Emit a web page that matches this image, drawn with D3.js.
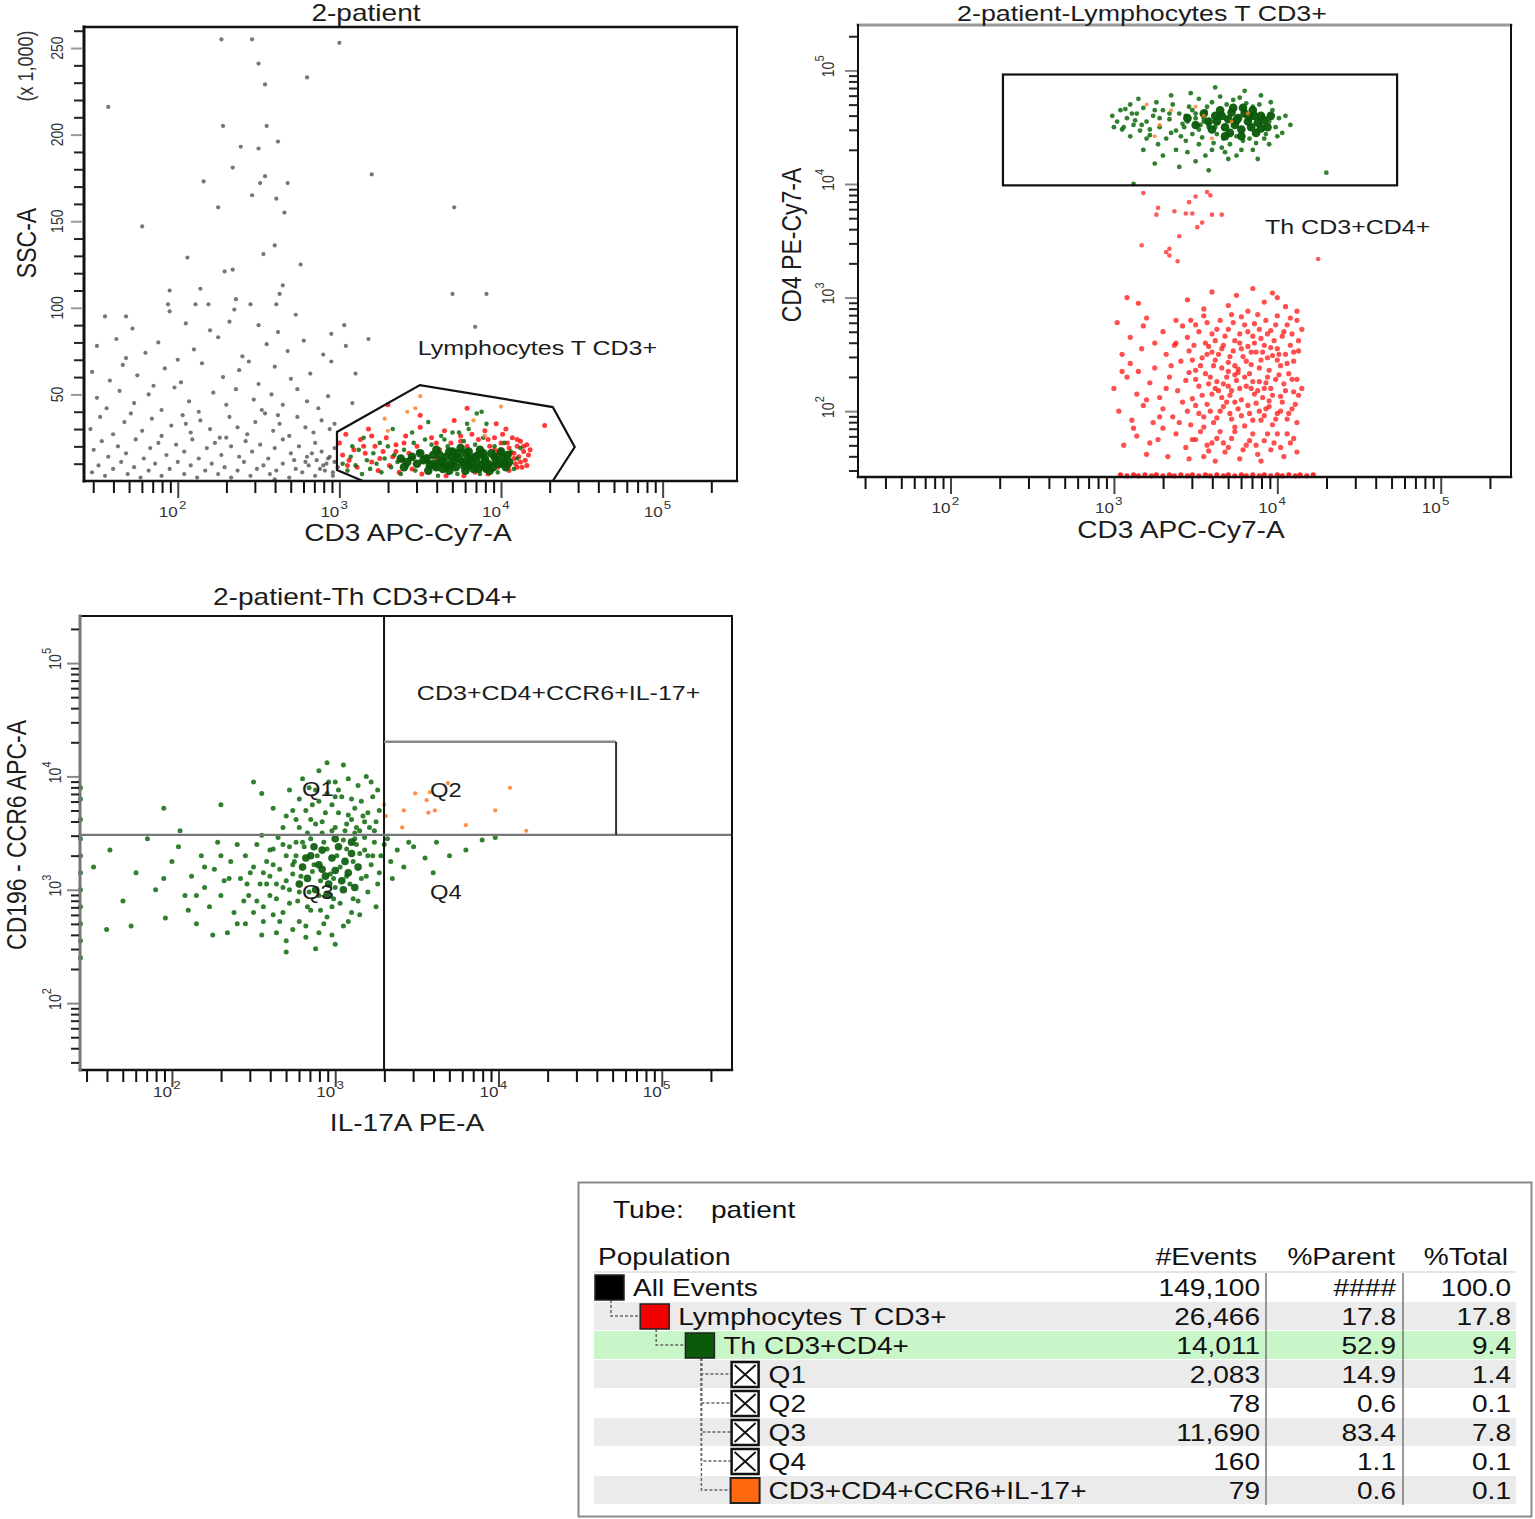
<!DOCTYPE html>
<html><head><meta charset="utf-8">
<script src="https://cdn.jsdelivr.net/npm/d3@7"></script>
<style>
body{margin:0;background:#fff}
svg text{font-family:"Liberation Sans",Arial,Helvetica,sans-serif}
</style>
</head><body>
<svg id="c" width="1535" height="1519"></svg>
<script>
// ===== DATA (x and log-axis y given as log10 of intensity; SSC-A in thousands) =====
const p1Gray = [
[1.55,95],[1.72,88],[1.95,98],[2.05,91],[2.35,99],[2.5,90],[2.62,86],[2.73,96],[2.45,102],[2.2,87],
[1.5,78],[1.62,82],[1.8,74],[1.88,80],[2.1,76],[2.25,83],[2.4,72],[2.55,79],[2.68,75],[2.78,81],[2.9,73],[2.0,70],[1.68,71],
[1.47,63],[1.58,58],[1.66,67],[1.75,61],[1.92,65],[2.02,57],[2.15,68],[2.28,60],[2.38,64],[2.5,56],[2.6,66],[2.7,59],[2.82,62],[2.95,69],[1.85,55],[2.44,69],
[1.5,48],[1.56,42],[1.64,52],[1.73,45],[1.82,50],[1.9,41],[1.98,54],[2.07,46],[2.13,40],[2.22,51],[2.3,44],[2.36,53],[2.47,47],[2.52,41],[2.58,50],[2.65,44],[2.74,53],[2.8,46],[2.87,42],[2.93,49],
[1.46,30],[1.52,37],[1.6,27],[1.67,34],[1.71,39],[1.78,29],[1.84,36],[1.9,26],[1.96,32],[2.03,38],[2.08,28],[2.14,35],[2.2,30],[2.26,25],[2.32,37],[2.37,31],[2.43,27],[2.48,34],[2.54,39],[2.59,29],[2.63,33],[2.69,26],[2.74,37],[2.79,31],[2.84,28],[2.89,35],[2.94,30],[2.62,38],[2.05,33],
[1.48,18],[1.53,23],[1.57,14],[1.63,20],[1.68,16],[1.74,24],[1.79,13],[1.83,19],[1.88,22],[1.93,15],[1.99,21],[2.04,17],[2.09,24],[2.13,13],[2.18,19],[2.23,22],[2.27,15],[2.33,20],[2.38,14],[2.42,23],[2.46,17],[2.51,21],[2.56,13],[2.6,19],[2.65,24],[2.7,16],[2.75,20],[2.8,14],[2.85,22],[2.89,17],[2.93,13],[2.97,19],[2.72,12],[2.3,25],
[1.47,5],[1.51,9],[1.55,3],[1.6,7],[1.65,11],[1.69,4],[1.73,8],[1.77,2],[1.82,6],[1.86,10],[1.9,3],[1.95,7],[2.0,11],[2.04,4],[2.08,9],[2.12,2],[2.17,6],[2.21,10],[2.25,4],[2.29,8],[2.33,2],[2.37,6],[2.41,11],[2.45,3],[2.49,7],[2.53,9],[2.57,4],[2.61,6],[2.65,10],[2.69,2],[2.73,7],[2.77,5],[2.81,9],[2.85,3],[2.88,7],[2.92,10],[2.96,5],[2.99,8],[2.79,11],[2.6,1],
[2.86,12],[2.9,9],[2.94,14],[2.97,11],[2.83,16],[2.91,6],[2.96,3],[2.97,33],[3.18,82],[2.95,85],[3.04,78],[3.1,62],[3.08,45],
[2.27,255],[2.46,255],[3.0,253],[2.5,241],[1.57,216],[2.8,233],[2.54,229],[2.28,205],[2.55,205],[2.39,193],[2.5,192],[2.62,196],[2.34,181],[2.54,176],[2.16,173],[2.51,172],[2.68,172],[3.2,177],[2.46,165],[2.61,163],[2.25,158],[2.66,155],[3.71,158],[1.78,147],[2.6,136],[2.53,131],[2.06,129],[2.76,125],[2.34,122],[2.29,121],[2.65,113],[2.63,108],[3.7,108],[3.91,108],[2.14,111],[2.36,105],[1.95,110],[2.11,102],[2.19,102],[1.94,102],[1.68,95],[2.61,102],[3.84,89],[3.03,90],[2.32,92]
];
const p1Red = [
[3.0,22],[3.02,15],[3.04,27],[3.06,12],[3.09,18],[3.11,8],[3.13,24],[3.16,16],[3.18,30],[3.2,11],[3.22,20],[3.24,6],[3.27,17],[3.29,25],[3.31,9],[3.33,14],[3.35,21],[3.37,5],[3.39,12],[3.41,26],[3.43,16],[3.45,7],[3.48,20],[3.5,31],[3.51,4],[3.54,14],[3.57,25],[3.59,8],[3.62,18],[3.65,29],[3.66,3],[3.69,22],[3.72,15],[3.75,26],[3.77,3],[3.79,20],[3.82,27],[3.84,5],[3.86,24],[3.88,17],[3.9,29],[3.92,4],[3.93,20],[3.95,14],[3.96,25],[3.98,8],[4.0,18],[4.01,27],[4.02,12],[4.04,22],[4.05,6],[4.06,16],[4.07,25],[4.09,10],[4.1,20],[4.11,14],[4.12,23],[4.13,8],[4.14,17],[4.15,12],[4.16,21],[4.17,15],[4.03,30],[3.97,33],[3.71,35],[3.5,38],[3.3,44],[3.79,42],[4.27,32],[3.6,13],[3.7,9],[3.85,13],[3.95,10],[4.0,9],[4.08,13],[3.9,7],[3.8,14],[4.1,8],[3.55,11],[3.45,13],[4.18,18],[4.05,19],[3.98,16],
[4.05,9],[4.08,16],[4.12,11],[4.14,20],[4.0,22],[3.96,18],[3.92,24],[4.1,24],[4.16,9],[3.35,17],[3.25,13],[3.15,20],[3.05,9],[3.4,22],[3.2,26],[3.6,22],[3.75,23]
];
const p1Green = [
[3.02,10],[3.05,6],[3.07,14],[3.1,9],[3.12,18],[3.14,4],[3.17,12],[3.19,7],[3.21,16],[3.23,10],[3.26,5],[3.28,13],[3.3,20],[3.32,8],[3.34,15],[3.36,11],[3.38,4],[3.4,18],[3.42,9],[3.44,13],[3.46,22],[3.47,6],[3.49,17],[3.53,24],[3.57,21],[3.61,3],[3.63,26],[3.67,20],[3.7,28],[3.73,4],[3.77,23],[3.8,30],[3.84,21],[3.87,4],[3.89,25],[3.91,33],[3.96,20],[3.98,5],[4.02,22],[4.06,17],[4.08,7],[4.1,13],[4.12,19],[3.85,39],[3.88,40],[3.74,28],[3.65,24],[3.45,28],[3.25,22],[3.15,25],[3.08,20],[3.33,30],[3.55,34],[3.79,33]
];
const p1GreenCore = [
[3.52,12],[3.56,9],[3.58,15],[3.62,11],[3.64,7],[3.66,14],[3.69,10],[3.7,17],[3.72,8],[3.74,13],[3.76,11],[3.78,16],[3.8,9],[3.81,13],[3.83,7],[3.85,11],[3.86,15],[3.88,9],[3.9,13],[3.92,10],[3.94,16],[3.95,8],[3.97,12],[3.99,10],[4.01,14],[4.03,8],[4.05,11],[3.6,18],[3.68,6],[3.75,19],[3.87,18],[3.93,6],[3.55,6],[3.71,12],[3.82,10],[3.64,11],[3.9,11],[3.78,6],[4.0,17],[3.5,16],
[3.54,13],[3.58,10],[3.62,15],[3.66,9],[3.7,14],[3.73,16],[3.77,9],[3.79,12],[3.84,14],[3.89,16],[3.91,7],[3.96,14],[4.02,10],[4.04,15],[3.6,8],[3.68,17],[3.8,17],[3.86,7],[3.48,10],[3.45,14],[3.42,11],[3.4,8],[3.38,13]
];
const p1Orange = [[3.5,49],[4.0,43],[3.28,36],[3.83,35],[3.47,42],[3.3,29],[3.9,26],[3.42,40]];
const p1Gate = [[2.985,28.3],[2.985,6.4],[3.145,0],[4.32,0],[4.456,19.6],[4.32,42.7],[3.498,55.4]];

const p2Green = [
[2.99,4.6],[3.02,4.55],[3.04,4.65],[3.06,4.5],[3.08,4.58],[3.1,4.7],[3.12,4.52],[3.14,4.62],[3.16,4.47],[3.18,4.67],[3.2,4.55],[3.22,4.43],[3.24,4.6],[3.26,4.72],[3.28,4.5],[3.3,4.65],[3.32,4.4],[3.34,4.57],[3.36,4.7],[3.38,4.47],[3.4,4.62],[3.42,4.53],[3.44,4.38],[3.46,4.68],[3.48,4.44],[3.5,4.58],[3.52,4.75],[3.54,4.41],[3.56,4.64],[3.58,4.5],[3.6,4.72],[3.61,4.36],[3.63,4.44],[3.65,4.77],[3.67,4.4],[3.69,4.7],[3.71,4.35],[3.73,4.74],[3.75,4.42],[3.77,4.76],[3.79,4.38],[3.81,4.71],[3.83,4.4],[3.85,4.68],[3.87,4.36],[3.89,4.7],[3.91,4.6],[3.93,4.44],[3.95,4.55],[3.97,4.65],[3.99,4.5],[4.01,4.58],[4.03,4.45],[4.05,4.6],[4.08,4.52],[3.95,4.35],[3.85,4.3],[3.6,4.3],[3.45,4.28],[3.3,4.25],[3.18,4.3],[3.5,4.2],[3.7,4.22],[3.4,4.15],[3.25,4.18],[3.58,4.12],[3.75,4.25],[3.88,4.22],[4.3,4.1],[3.62,4.85],[3.47,4.8],[3.8,4.82],[3.9,4.78],[3.35,4.78],[3.55,4.55],[3.43,4.5],[3.35,4.45],[3.2,4.4],[3.1,4.42],[3.05,4.48],[3.52,4.35],[3.66,4.32],[3.78,4.3],[3.0,4.5],[3.15,4.75],[3.96,4.72],[3.56,4.25],[3.38,4.3],[3.27,4.35],[3.44,4.6],[3.57,4.68],[3.68,4.28],[3.92,4.4],[4.0,4.42],[3.25,4.65],[3.13,4.56],[3.62,4.5],[3.53,4.52],[3.48,4.65],[3.41,4.42],[3.34,4.62],[3.28,4.58],[3.22,4.48],[3.11,4.62],[3.07,4.66],[3.17,4.52],[3.45,4.55],[3.5,4.62],[3.52,4.48],[3.55,4.58],[3.58,4.52],[3.12,4.0]
];
const p2GreenCore = [
[3.63,4.55],[3.66,4.6],[3.68,4.5],[3.7,4.57],[3.72,4.63],[3.74,4.52],[3.76,4.58],[3.78,4.48],[3.8,4.62],[3.82,4.55],[3.84,4.5],[3.86,4.6],[3.88,4.54],[3.9,4.49],[3.71,4.45],[3.79,4.67],[3.65,4.65],[3.87,4.45],[3.75,4.56],[3.83,4.59],
[3.45,4.58],[3.5,4.52],[3.55,4.62],[3.58,4.55],[3.6,4.48],[3.62,4.6],[3.92,4.56],[3.94,4.5],[3.9,4.6],[3.68,4.42],[3.78,4.42],[3.85,4.65],[3.73,4.67],[3.96,4.6]
];
const p2Orange = [[3.2,4.7],[3.28,4.52],[3.35,4.65],[3.5,4.68],[3.55,4.6],[3.6,4.4],[3.72,4.55],[3.82,4.62],[3.25,4.42]];
const p2RedMid = [
[3.18,3.92],[3.17,3.46],[3.27,3.79],[3.26,3.73],[3.37,3.76],[3.44,3.74],[3.48,3.74],[3.46,3.84],[3.5,3.89],[3.57,3.93],[3.59,3.9],[3.54,3.66],[3.51,3.62],[3.4,3.54],[3.34,3.43],[3.32,3.4],[3.34,3.37],[3.39,3.32],[3.6,3.73],[3.66,3.73],[4.25,3.34]
];
const p2Red = [
[3.08,3.0],[3.15,2.95],[3.45,2.98],[3.6,3.05],[3.75,3.02],[3.85,3.08],[3.92,2.96],[4.0,3.0],[4.05,2.92],[3.7,2.93],[3.55,2.9],[3.97,3.04],[3.82,2.88],[4.12,2.88],
[3.02,2.78],[3.2,2.82],[3.3,2.7],[3.38,2.8],[3.45,2.65],[3.5,2.76],[3.55,2.84],[3.6,2.68],[3.65,2.8],[3.7,2.72],[3.74,2.62],[3.78,2.83],[3.82,2.7],[3.86,2.77],[3.9,2.64],[3.93,2.8],[3.96,2.71],[4.0,2.84],[4.03,2.66],[4.06,2.76],[4.09,2.68],[4.12,2.8],[4.15,2.72],[3.62,2.62],[3.88,2.85],[3.98,2.62],[3.72,2.85],[3.42,2.75],
[3.05,2.5],[3.1,2.42],[3.17,2.55],[3.25,2.38],[3.32,2.5],[3.37,2.58],[3.41,2.44],[3.46,2.53],[3.5,2.36],[3.54,2.47],[3.58,2.57],[3.61,2.4],[3.64,2.5],[3.67,2.58],[3.7,2.43],[3.73,2.53],[3.76,2.37],[3.79,2.48],[3.82,2.57],[3.84,2.41],[3.87,2.52],[3.9,2.45],[3.92,2.58],[3.95,2.36],[3.97,2.49],[4.0,2.55],[4.02,2.4],[4.05,2.5],[4.08,2.58],[4.1,2.44],[4.13,2.53],[3.56,2.6],[3.66,2.38],[3.86,2.6],[3.94,2.47],[3.48,2.45],[3.78,2.55],[3.6,2.52],[3.7,2.35],[4.0,2.45],
[3.0,2.2],[3.08,2.3],[3.14,2.15],[3.22,2.25],[3.28,2.12],[3.34,2.3],[3.39,2.18],[3.44,2.27],[3.48,2.11],[3.52,2.22],[3.56,2.33],[3.6,2.15],[3.63,2.26],[3.66,2.12],[3.69,2.3],[3.72,2.18],[3.75,2.27],[3.78,2.1],[3.81,2.22],[3.83,2.33],[3.86,2.15],[3.89,2.26],[3.91,2.12],[3.94,2.3],[3.96,2.2],[3.99,2.28],[4.02,2.13],[4.04,2.24],[4.07,2.33],[4.1,2.17],[4.12,2.28],[4.15,2.2],[3.58,2.24],[3.7,2.22],[3.84,2.2],[3.92,2.2],[3.46,2.34],[3.32,2.2],[3.76,2.34],[3.64,2.18],
[3.03,2.0],[3.11,1.92],[3.18,2.05],[3.24,1.9],[3.3,2.02],[3.36,1.95],[3.42,2.08],[3.47,1.88],[3.52,1.98],[3.57,2.06],[3.61,1.9],[3.65,2.0],[3.69,2.08],[3.72,1.93],[3.76,2.02],[3.8,1.87],[3.83,1.98],[3.87,2.07],[3.9,1.92],[3.93,2.02],[3.97,1.88],[4.0,1.98],[4.03,2.08],[4.06,1.93],[4.09,2.02],[4.12,1.9],[3.55,1.86],[3.74,1.86],[3.95,2.09],[3.4,1.9],
[3.06,1.7],[3.14,1.78],[3.2,1.62],[3.27,1.75],[3.33,1.6],[3.38,1.8],[3.44,1.68],[3.5,1.75],[3.55,1.6],[3.6,1.72],[3.65,1.82],[3.68,1.64],[3.72,1.76],[3.77,1.58],[3.81,1.7],[3.85,1.8],[3.88,1.62],[3.92,1.74],[3.96,1.66],[4.0,1.8],[4.04,1.6],[4.08,1.72],[4.12,1.64],[3.46,1.58],[3.62,1.56],[3.9,1.56],[3.7,1.68],[3.58,1.65],
[3.47,2.8],[3.52,2.7],[3.57,2.78],[3.63,2.72],[3.68,2.66],[3.73,2.78],[3.77,2.68],[3.8,2.76],[3.85,2.66],[3.89,2.72],[3.94,2.68],[3.99,2.76],[4.04,2.7],[4.08,2.82],
[3.49,2.58],[3.53,2.4],[3.57,2.5],[3.62,2.45],[3.66,2.55],[3.71,2.48],[3.74,2.4],[3.77,2.6],[3.81,2.44],[3.84,2.52],[3.89,2.38],[3.91,2.52],[3.96,2.56],[4.01,2.5],[4.06,2.42],[4.1,2.52],[4.13,2.62],
[3.5,2.28],[3.54,2.14],[3.59,2.3],[3.62,2.2],[3.67,2.24],[3.71,2.14],[3.74,2.32],[3.77,2.2],[3.8,2.3],[3.85,2.26],[3.88,2.18],[3.93,2.25],[3.97,2.14],[4.01,2.32],[4.05,2.18],[4.09,2.28],[4.13,2.14],
[3.45,2.0],[3.5,2.05],[3.55,1.95],[3.59,2.0],[3.63,1.94],[3.67,2.04],[3.71,1.98],[3.74,2.08],[3.78,1.96],[3.82,2.05],[3.85,1.92],[3.89,2.0],[3.92,1.96],[3.95,2.04],[3.99,1.93],[4.02,2.0],[4.07,1.98],[4.11,2.06],
[3.48,1.75],[3.53,1.82],[3.57,1.7],[3.63,1.76],[3.67,1.72],[3.74,1.82],[3.79,1.66],[3.83,1.74],[3.87,1.7],[3.94,1.8],[3.98,1.72],[4.02,1.68],[4.06,1.8],[4.1,1.76],
[3.1,2.65],[3.15,2.35],[3.2,2.1],[3.25,2.6],[3.28,1.95],[3.35,2.4],[3.12,1.85],[3.22,1.72],[3.3,1.85],[3.38,2.6],[3.05,2.35],[3.18,2.75]
];
const p2RedFloor = [
[3.04,1.44],[3.08,1.43],[3.12,1.44],[3.15,1.43],[3.19,1.44],[3.23,1.43],[3.26,1.44],[3.3,1.43],[3.34,1.44],[3.37,1.43],[3.41,1.44],[3.45,1.43],[3.48,1.44],[3.52,1.43],[3.56,1.44],[3.59,1.43],[3.63,1.44],[3.67,1.43],[3.7,1.44],[3.74,1.43],[3.78,1.44],[3.81,1.43],[3.85,1.44],[3.89,1.43],[3.92,1.44],[3.96,1.43],[4.0,1.44],[4.03,1.43],[4.07,1.44],[4.11,1.43],[4.14,1.44],[4.18,1.43],[4.22,1.44]
];
const p2Gate = {x:[2.321,4.733], y:[3.988,4.964]};

const p3Green = [
[2.42,3.1],[2.45,3.3],[2.47,2.95],[2.5,3.2],[2.52,3.4],[2.54,3.05],[2.56,2.85],[2.58,3.25],[2.6,3.12],[2.62,3.36],[2.64,2.92],[2.66,3.18],[2.68,3.02],[2.7,3.3],[2.72,2.88],[2.74,3.14],[2.76,3.42],[2.78,2.98],[2.55,3.48],[2.65,3.46],[2.75,3.25],[2.68,2.8],[2.6,2.95],[2.48,3.15],[2.58,3.05],[2.7,3.08],[2.62,3.22],[2.72,3.38],[2.52,2.9],[2.66,2.72],
[1.52,3.2],[1.62,3.35],[1.7,2.9],[1.78,3.15],[1.85,3.45],[1.9,3.0],[1.96,2.75],[2.0,3.25],[2.04,3.38],[2.08,2.95],[2.12,3.12],[2.15,2.7],[2.18,3.3],[2.2,3.02],[2.23,2.85],[2.26,3.18],[2.28,3.42],[2.3,2.95],[2.32,3.08],[2.34,2.62],[2.36,3.25],[2.38,2.8],[2.25,2.6],[2.1,2.82],[1.95,3.1],[1.75,2.68],[1.6,2.65],[2.4,2.7],[2.3,3.3],[2.05,3.52],
[2.45,2.7],[2.55,2.6],[2.62,2.78],[2.7,2.55],[2.78,2.72],[2.85,2.82],[2.9,2.62],[2.95,2.76],[3.0,2.52],[3.05,2.68],[2.82,2.58],[3.1,2.8],[2.74,2.65],[2.98,2.85],[2.88,2.48],
[3.14,2.9],[3.16,3.1],[3.18,3.35],[3.2,2.98],[3.22,3.22],[3.24,3.42],[3.26,3.05],[3.25,2.85],[3.18,3.46],[3.12,3.45],[3.2,3.3],[3.15,2.78],
[2.76,3.3],[2.79,3.12],[2.81,3.38],[2.84,2.98],[2.86,3.16],[2.89,3.3],[2.91,3.08],[2.93,3.42],[2.97,3.14],[2.99,2.92],[3.01,3.3],[3.03,3.2],[3.07,3.36],[3.09,3.05],[3.11,3.25],[3.13,3.4],[2.85,3.45],[3.0,3.02],[2.9,2.95],[3.05,3.44],
[2.62,3.72],[2.68,3.55],[2.72,3.88],[2.76,3.62],[2.8,3.98],[2.83,3.5],[2.86,3.75],[2.9,4.05],[2.92,3.6],[2.95,3.85],[2.98,3.52],[3.0,3.95],[3.02,3.68],[3.05,4.1],[3.07,3.58],[3.1,3.8],[3.12,3.5],[3.14,3.92],[3.17,3.65],[3.19,4.0],[3.21,3.55],[3.23,3.82],[3.25,3.6],[3.27,3.7],[2.88,3.88],[2.98,3.75],[3.08,3.66],[2.78,3.8],[2.7,3.65],[3.0,3.55],[3.15,3.52],[2.85,3.62],[2.95,4.12],[3.22,3.95],[3.12,3.72],[2.55,3.85],[2.3,3.75],[1.95,3.72],[2.5,3.95],[2.92,3.5],[3.04,3.82],[3.18,3.6],
[2.78,3.55],[2.82,3.7],[2.88,3.58],[2.94,3.68],[3.0,3.82],[3.06,3.52],[3.1,3.62],[3.16,3.78],[3.2,3.68],[3.24,3.52],[2.9,3.78],[2.96,3.95],[3.02,3.88],[3.08,3.98],[3.13,3.55],[2.74,3.7],[2.84,3.9],[3.26,3.88],
[2.56,3.15],[2.6,3.35],[2.64,3.05],[2.68,3.4],[2.72,3.0],[2.74,3.22],[2.77,2.9],[2.8,3.42],[2.83,2.85],[2.87,3.22],[2.91,2.82],[2.95,3.36],[2.99,3.1],[3.03,2.88],[3.07,3.12],[3.11,2.92],[3.15,3.32],[3.19,3.12],[3.23,3.3],[3.27,3.15],[2.46,3.05],[2.5,2.8],[2.35,3.1],[2.4,3.4],[2.2,3.2],[2.15,2.95],[2.44,2.9],[2.56,2.72],[2.64,2.62],[2.82,2.68],[2.93,2.7],[3.08,2.72],[2.7,2.45],[2.98,2.6],
[3.3,3.4],[3.34,3.25],[3.38,3.35],[3.42,3.2],[3.48,3.38],[3.55,3.28],[3.62,3.42],[3.7,3.3],[3.8,3.35],[3.9,3.44],[3.98,3.46],[3.35,3.1],[3.6,3.15],[3.45,3.42],[3.28,3.3],[3.32,3.45],
[1.44,3.9],[1.44,3.8],[1.44,3.62],[1.44,3.45],[1.44,3.3],[1.44,3.15],[1.44,3.0],[1.44,2.85],[1.44,2.7],[1.44,2.55],[1.44,2.4]
];
const p3GreenCore = [
[2.8,3.2],[2.83,3.1],[2.85,3.3],[2.88,3.0],[2.9,3.22],[2.92,3.35],[2.94,3.12],[2.96,3.05],[2.98,3.28],[3.0,3.17],[3.02,3.38],[3.04,3.08],[3.06,3.25],[3.08,3.15],[3.1,3.32],[3.12,3.02],[2.87,3.38],[2.95,2.96],[3.0,3.45],[2.82,3.28],[3.14,3.2],[2.92,3.18],[3.05,3.0],[2.78,3.05],[3.1,3.42]
];
const p3Orange = [[3.3,3.75],[3.31,3.65],[3.41,3.55],[3.42,3.7],[3.49,3.85],[3.56,3.79],[3.57,3.68],[3.61,3.7],[3.58,3.86],[3.69,3.94],[3.8,3.57],[3.98,3.7],[4.07,3.9],[4.17,3.52]];
const p3QuadX = 3.299, p3QuadY = 3.484;
const p3Gate = {x:[3.299,4.72], y:[3.484,4.305]};

const xTickExps = [2,3,4,5];
const yTickExps = [2,3,4,5];
const sscTickLabels = [50,100,150,200,250];

const popNames = ["All Events","Lymphocytes T CD3+","Th CD3+CD4+","Q1","Q2","Q3","Q4","CD3+CD4+CCR6+IL-17+"];
const popLevel = [0,1,2,3,3,3,3,3];
const popEvents = [149100,26466,14011,2083,78,11690,160,79];
const popParent = [null,17.8,52.9,14.9,0.6,83.4,1.1,0.6];
const popTotal = [100.0,17.8,9.4,1.4,0.1,7.8,0.1,0.1];

// ===== DRAWING =====
const SX = 1.22;
const svg = d3.select("#c");
const TXT = "#1c1c1c";

function label(g, x, y, str, size, anchor, rot, fill){
  return g.append("text")
    .attr("transform", `translate(${x},${y}) scale(${SX},1)` + (rot ? " rotate(-90)" : ""))
    .attr("text-anchor", anchor || "start").attr("font-size", size)
    .attr("fill", fill || TXT).text(str);
}
function powLabel(g, x, y, exp, rot){
  const grp = g.append("g").attr("transform", `translate(${x},${y}) scale(${SX},1)` + (rot ? " rotate(-90)" : ""));
  if(rot){
    grp.append("text").attr("x",1).attr("text-anchor","middle").attr("font-size",14).attr("fill","#333").text("10");
    grp.append("text").attr("x",9).attr("y",-8).attr("font-size",11).attr("fill","#333").text(exp);
  } else {
    grp.append("text").attr("x",0).attr("text-anchor","end").attr("font-size",14).attr("fill","#333").text("10");
    grp.append("text").attr("x",1).attr("y",-8).attr("font-size",11).attr("fill","#333").text(exp);
  }
}
const isDecade = v => Math.abs(Math.log10(v) - Math.round(Math.log10(v))) < 1e-9;

function logXAxis(g, x, y1){
  const all = x.ticks().filter(v => v >= x.domain()[0] && v <= x.domain()[1]);
  const minor = all.filter(v => !isDecade(v)), major = all.filter(isDecade);
  const a1 = g.append("g").attr("transform", `translate(0,${y1+1})`)
    .call(d3.axisBottom(x).tickValues(minor).tickSize(11).tickFormat(""));
  const a2 = g.append("g").attr("transform", `translate(0,${y1+1})`)
    .call(d3.axisBottom(x).tickValues(major).tickSize(16).tickFormat(""));
  [a1,a2].forEach(a => { a.select(".domain").remove(); a.selectAll("line").attr("stroke","#111").attr("stroke-width",2); });
  a2.selectAll("line").attr("stroke","#444");
}
function logYAxis(g, y, x0){
  const all = y.ticks().filter(v => v >= y.domain()[0] && v <= y.domain()[1]);
  const minor = all.filter(v => !isDecade(v)), major = all.filter(isDecade);
  const a1 = g.append("g").attr("transform", `translate(${x0-1},0)`)
    .call(d3.axisLeft(y).tickValues(minor).tickSize(8).tickFormat(""));
  const a2 = g.append("g").attr("transform", `translate(${x0-1},0)`)
    .call(d3.axisLeft(y).tickValues(major).tickSize(12).tickFormat(""));
  [a1,a2].forEach(a => { a.select(".domain").remove(); a.selectAll("line").attr("stroke","#222").attr("stroke-width",2); });
  a2.selectAll("line").attr("stroke","#888");
}
function dots(g, data, xs, ys, fill, r, op){
  g.append("g").selectAll("circle").data(data).join("circle")
    .attr("cx", d => xs(d[0])).attr("cy", d => ys(d[1]))
    .attr("r", r).attr("fill", fill).attr("fill-opacity", op);
}
function frame(g, L){
  const s = [
    [L.x0,L.y0,L.x1,L.y0,L.top,L.topW],[L.x0,L.y1,L.x1,L.y1,"#111",2.5],
    [L.x0,L.y0,L.x0,L.y1,L.left,L.leftW],[L.x1,L.y0,L.x1,L.y1,"#111",2]];
  s.forEach(q => g.append("line").attr("x1",q[0]).attr("y1",q[1]).attr("x2",q[2]).attr("y2",q[3])
    .attr("stroke",q[4]).attr("stroke-width",q[5]).attr("stroke-linecap","square"));
}

const GREEN = "#0c6a0c", GREENCORE = "#075807", RED = "#ff1414", ORANGE = "#ff7b22", GRAY = "#3c3c3c";

// ---------- Plot 1 ----------
{
  const L = {x0:84,x1:737,y0:27,y1:481,top:"#111",topW:2.5,left:"#111",leftW:3};
  const g = svg.append("g");
  const xl = d3.scaleLog().domain([10**1.42, 10**5.46]).range([L.x0,L.x1]);
  const yl = d3.scaleLinear().domain([0,262.144]).range([L.y1,L.y0]);
  const xs = e => xl(10**e);
  dots(g, p1Gray, xs, yl, GRAY, 2.1, 0.7);
  dots(g, p1Red, xs, yl, RED, 2.5, 0.85);
  dots(g, p1Green, xs, yl, GREEN, 2.3, 0.85);
  dots(g, p1GreenCore, xs, yl, GREENCORE, 4.3, 0.95);
  dots(g, p1Orange, xs, yl, ORANGE, 2.1, 0.8);
  g.append("path").attr("d", d3.line().x(d => xs(d[0])).y(d => yl(d[1])).curve(d3.curveLinearClosed)(p1Gate))
    .attr("fill","none").attr("stroke","#111").attr("stroke-width",2.2);
  frame(g, L);
  logXAxis(g, xl, L.y1);
  const yt = d3.range(10, 261, 10);
  const ya = g.append("g").attr("transform",`translate(${L.x0-1},0)`)
    .call(d3.axisLeft(yl).tickValues(yt.filter(v => v % 50)).tickSize(9).tickFormat(""));
  const yb = g.append("g").attr("transform",`translate(${L.x0-1},0)`)
    .call(d3.axisLeft(yl).tickValues(sscTickLabels).tickSize(12).tickFormat(""));
  [ya,yb].forEach(a => { a.select(".domain").remove(); a.selectAll("line").attr("stroke","#222").attr("stroke-width",2); });
  yb.selectAll("line").attr("stroke","#999");
  sscTickLabels.forEach(v => label(g, 63, yl(v), String(v), 14, "middle", true, "#333"));
  xTickExps.forEach(e => powLabel(g, xs(e), 517, e, false));
  label(g, 33, 66, "(x 1,000)", 18, "middle", true, "#333");
  label(g, 36, 243, "SSC-A", 23, "middle", true);
  label(g, 408, 541, "CD3 APC-Cy7-A", 23, "middle");
  label(g, 366, 21, "2-patient", 23, "middle");
  label(g, xs(3.485), 355, "Lymphocytes T CD3+", 20.5, "start");
}

// ---------- Plot 2 ----------
{
  const L = {x0:858,x1:1511,y0:25,y1:477,top:"#9a9a9a",topW:3,left:"#111",leftW:2};
  const g = svg.append("g");
  const xl = d3.scaleLog().domain([10**1.434, 10**5.43]).range([L.x0,L.x1]);
  const yl = d3.scaleLog().domain([10**1.42, 10**5.40]).range([L.y1,L.y0]);
  const xs = e => xl(10**e), ys = f => yl(10**f);
  dots(g, p2Red, xs, ys, RED, 2.6, 0.75);
  dots(g, p2RedFloor, xs, ys, RED, 2.6, 0.9);
  dots(g, p2RedMid, xs, ys, RED, 2.3, 0.7);
  dots(g, p2Green, xs, ys, GREEN, 2.4, 0.85);
  dots(g, p2GreenCore, xs, ys, GREENCORE, 4.3, 0.95);
  dots(g, p2Orange, xs, ys, ORANGE, 2, 0.8);
  g.append("rect").attr("x", xs(p2Gate.x[0])).attr("y", ys(p2Gate.y[1]))
    .attr("width", xs(p2Gate.x[1]) - xs(p2Gate.x[0])).attr("height", ys(p2Gate.y[0]) - ys(p2Gate.y[1]))
    .attr("fill","none").attr("stroke","#111").attr("stroke-width",2.2);
  frame(g, L);
  logXAxis(g, xl, L.y1);
  logYAxis(g, yl, L.x0);
  xTickExps.forEach(e => powLabel(g, xs(e), 513, e, false));
  yTickExps.forEach(e => powLabel(g, 834, ys(e), e, true));
  label(g, 801, 245, "CD4 PE-Cy7-A", 23, "middle", true);
  label(g, 1181, 538, "CD3 APC-Cy7-A", 23, "middle");
  label(g, 1142, 21, "2-patient-Lymphocytes T CD3+", 22, "middle");
  label(g, 1265, 234, "Th CD3+CD4+", 20.5, "start");
}

// ---------- Plot 3 ----------
{
  const L = {x0:80,x1:732,y0:616,y1:1070,top:"#111",topW:2,left:"#777",leftW:3};
  const g = svg.append("g");
  const xl = d3.scaleLog().domain([10**1.437, 10**5.43]).range([L.x0,L.x1]);
  const yl = d3.scaleLog().domain([10**1.41, 10**5.415]).range([L.y1,L.y0]);
  const xs = e => xl(10**e), ys = f => yl(10**f);
  dots(g, p3Green, xs, ys, GREEN, 2.5, 0.85);
  dots(g, p3GreenCore, xs, ys, GREENCORE, 3.8, 0.9);
  dots(g, p3Orange, xs, ys, ORANGE, 2.1, 0.85);
  g.append("line").attr("x1", xs(p3QuadX)).attr("x2", xs(p3QuadX)).attr("y1", L.y0).attr("y2", L.y1)
    .attr("stroke","#111").attr("stroke-width",2);
  g.append("line").attr("x1", L.x0).attr("x2", L.x1).attr("y1", ys(p3QuadY)).attr("y2", ys(p3QuadY))
    .attr("stroke","#777").attr("stroke-width",2.2);
  const gx0 = xs(p3Gate.x[0]), gx1 = xs(p3Gate.x[1]), gy0 = ys(p3Gate.y[0]), gy1 = ys(p3Gate.y[1]);
  g.append("line").attr("x1",gx0).attr("x2",gx1).attr("y1",gy1).attr("y2",gy1).attr("stroke","#888").attr("stroke-width",2.5);
  g.append("line").attr("x1",gx1).attr("x2",gx1).attr("y1",gy1).attr("y2",gy0).attr("stroke","#333").attr("stroke-width",2);
  frame(g, L);
  logXAxis(g, xl, L.y1);
  logYAxis(g, yl, L.x0);
  xTickExps.forEach(e => powLabel(g, xs(e), 1097, e, false));
  yTickExps.forEach(e => powLabel(g, 61, ys(e), e, true));
  label(g, 26, 835, "CD196 - CCR6 APC-A", 23, "middle", true);
  label(g, 407, 1131, "IL-17A PE-A", 23, "middle");
  label(g, 365, 605, "2-patient-Th CD3+CD4+", 23, "middle");
  label(g, xs(3.5), 700, "CD3+CD4+CCR6+IL-17+", 20.5, "start");
  label(g, 302, 796, "Q1", 19.5, "start");
  label(g, 430, 797, "Q2", 19.5, "start");
  label(g, 302, 899, "Q3", 19.5, "start");
  label(g, 430, 899, "Q4", 19.5, "start");
}

// ---------- Population table ----------
{
  const g = svg.append("g");
  g.append("rect").attr("x",578.5).attr("y",1182.5).attr("width",953).attr("height",334)
    .attr("fill","#fff").attr("stroke","#8a8a8a").attr("stroke-width",2);
  const rows = d3.range(popNames.length);
  const yb = d3.scaleBand().domain(rows).range([1273, 1273 + 29*rows.length]);
  const shade = i => i === 2 ? "#c9f6c9" : (i % 2 === 1 ? "#ebebeb" : "none");
  g.selectAll("rect.bg").data(rows).join("rect").attr("class","bg")
    .attr("x",594).attr("y", i => yb(i)).attr("width",922).attr("height", yb.bandwidth()-1)
    .attr("fill", shade);
  const FS = 23;
  label(g, 613, 1218, "Tube:", FS, "start", false, "#111");
  label(g, 711, 1218, "patient", FS, "start", false, "#111");
  label(g, 598, 1265, "Population", FS, "start", false, "#111");
  label(g, 1257, 1265, "#Events", FS, "end", false, "#111");
  label(g, 1395, 1265, "%Parent", FS, "end", false, "#111");
  label(g, 1508, 1265, "%Total", FS, "end", false, "#111");
  g.append("line").attr("x1",594).attr("x2",1516).attr("y1",1272).attr("y2",1272).attr("stroke","#ddd").attr("stroke-width",1.5);
  [1266,1403].forEach(x => g.append("line").attr("x1",x).attr("x2",x).attr("y1",1273).attr("y2",1505)
    .attr("stroke","#777").attr("stroke-width",1.5));
  const iconX = lv => 595 + lv*45.2;
  const fmtN = d3.format(","), fmtP = d3.format(".1f");
  rows.forEach(i => {
    if(popLevel[i] === 0) return;
    let p = i - 1; while(popLevel[p] >= popLevel[i]) p--;
    const vx = iconX(popLevel[p]) + 16, cy = yb(i) + 14;
    g.append("path").attr("d", `M${vx},${yb(p)+27}V${cy}H${iconX(popLevel[i])}`)
      .attr("fill","none").attr("stroke","#666").attr("stroke-width",1.5).attr("stroke-dasharray","3,2");
  });
  const iconFill = ["#000","#f00000","#0a5a0a"];
  rows.forEach(i => {
    const lv = popLevel[i], x = iconX(lv), y = yb(i) + 2;
    if(lv < 3){
      g.append("rect").attr("x",x).attr("y",y).attr("width",29).attr("height",25)
        .attr("fill",iconFill[lv]).attr("stroke","#222").attr("stroke-width",1.5);
    } else if(i === popNames.length - 1){
      g.append("rect").attr("x",x).attr("y",y).attr("width",29).attr("height",25)
        .attr("fill","#ff6a10").attr("stroke","#222").attr("stroke-width",2);
    } else {
      g.append("rect").attr("x",x+1).attr("y",y).attr("width",27).attr("height",25)
        .attr("fill","#fff").attr("stroke","#111").attr("stroke-width",2.5);
      g.append("path").attr("d",`M${x+4},${y+3}L${x+25},${y+22}M${x+25},${y+3}L${x+4},${y+22}`)
        .attr("stroke","#111").attr("stroke-width",1.8);
    }
    const base = yb(i) + 23;
    label(g, x + 38, base, popNames[i], FS, "start", false, "#111");
    label(g, 1260, base, fmtN(popEvents[i]), FS, "end", false, "#111");
    label(g, 1396, base, popParent[i] === null ? "####" : fmtP(popParent[i]), FS, "end", false, "#111");
    label(g, 1511, base, fmtP(popTotal[i]), FS, "end", false, "#111");
  });
}
</script>
</body></html>
